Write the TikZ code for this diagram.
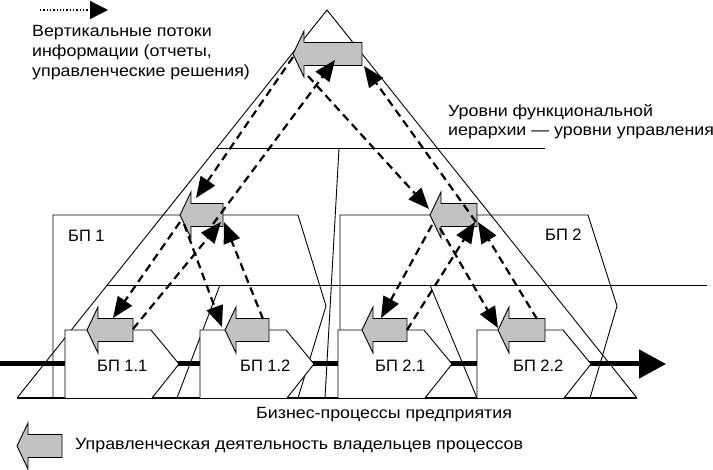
\documentclass[tikz,border=0pt]{standalone}
\usepackage{fontspec}
\setmainfont{Liberation Sans}
\newfontfamily\widefont[FakeStretch=1.1]{Liberation Sans}
\usetikzlibrary{arrows.meta}
\begin{document}
\begin{tikzpicture}[x=1pt,y=-1pt,
  thin line/.style={line width=0.9pt},
  flow/.style={line width=5pt},
  info/.style={line width=2.2pt, dash pattern=on 8pt off 5pt, -{Triangle[length=21pt,width=17pt]}},
  ownerstyle/.style={draw, line width=0.9pt, fill=black!24},
  lbl/.style={anchor=base west, inner sep=0pt, font=\widefont\fontsize{16.2}{19}\selectfont},
  bplbl/.style={anchor=base west, inner sep=0pt, font=\fontsize{16.5}{19}\selectfont},
  chev/.style={thin line, fill=white}]
\useasboundingbox (0,0) rectangle (713,470);
\newcommand\ownerarr[3]{%
  \draw[ownerstyle] (#1,#2) -- ++(11,-23) -- ++(0,11.5) -- (#3,#2-11.5) -- (#3,#2+11.5) -- (#1+11,#2+11.5) -- ++(0,11.5) -- cycle;}
% big triangle and levels
\coordinate (apex) at (327,10);
\coordinate (bl) at (17,398);
\coordinate (br) at (637,398);
\draw[thin line] (bl) -- (apex) -- (br);
\draw[line width=1.6pt] (bl) -- (br);
\coordinate (l1a) at (217,148); \coordinate (l1b) at (545,148);
\coordinate (l2a) at (107,285); \coordinate (l2b) at (707,285);
\draw[thin line] (l1a) -- (l1b);
\draw[thin line] (l2a) -- (l2b);
% split lines
\coordinate (s1a) at (339,148); \coordinate (s1b) at (325,398);
\coordinate (s2a) at (220,285); \coordinate (s2b) at (177,398);
\coordinate (s3a) at (430,285); \coordinate (s3b) at (477,398);
\draw[thin line] (s1a) -- (s1b);
\draw[thin line] (s2a) -- (s2b);
\draw[thin line] (s3a) -- (s3b);
% level-2 processes
\draw[thin line] (53,398) -- (53,215) -- (298,215) -- (326,306) -- (298,398);
\draw[thin line] (340,398) -- (340,215) -- (588,215) -- (617,306) -- (590,398);
% process flow
\coordinate (fa) at (0,364); \coordinate (fb) at (666,364);
\draw[flow, -{Triangle[length=27pt,width=28pt]}] (fa) -- (fb);
% level-3 processes
\foreach \L in {65,200,338,477}{
  \draw[chev] (\L,398) -- (\L,330) -- (\L+86,330) -- (\L+114,364) -- (\L+87,398);}
% owner arrows
\ownerarr{293}{54}{362}
\ownerarr{180}{215}{223}
\ownerarr{430}{215}{477}
\ownerarr{87}{330}{133}
\ownerarr{225}{330}{269}
\ownerarr{362}{330}{407}
\ownerarr{498}{330}{545}
% information flows
\coordinate (t0) at (293,57);  \coordinate (p1h) at (196,198);
\coordinate (p1t) at (213,224); \coordinate (t0h) at (335,60);
\coordinate (t0b) at (308,76); \coordinate (p2h) at (429,209);
\coordinate (p2t) at (476,222); \coordinate (t0g) at (364,66);
\draw[info] (t0) -- (p1h);
\draw[info] (p1t) -- (t0h);
\draw[info] (t0b) -- (p2h);
\draw[info] (p2t) -- (t0g);
\coordinate (a1) at (180,222); \coordinate (a11h) at (113,318);
\coordinate (a2) at (184,224); \coordinate (a12h) at (222,327);
\coordinate (a11t) at (133,329); \coordinate (a1h) at (221,222);
\coordinate (a12t) at (263,319); \coordinate (a1g) at (224,222);
\draw[info] (a1) -- (a11h);
\draw[info] (a2) -- (a12h);
\draw[info] (a11t) -- (a1h);
\draw[info] (a12t) -- (a1g);
\coordinate (b1) at (432,225); \coordinate (b21h) at (381,318);
\coordinate (b2) at (440,228); \coordinate (b22h) at (498,328);
\coordinate (b21t) at (407,330); \coordinate (b1h) at (475,222);
\coordinate (b22t) at (537,319); \coordinate (b1g) at (478,222);
\draw[info] (b1) -- (b21h);
\draw[info] (b2) -- (b22h);
\draw[info] (b21t) -- (b1h);
\draw[info] (b22t) -- (b1g);
% legend top
\coordinate (lga) at (40,10); \coordinate (lgb) at (108,10);
\draw[line width=1.3pt, dotted, -{Triangle[length=18pt,width=18pt]}] (lga) -- (lgb);
\node[lbl] (t1) at (32,37) {Вертикальные потоки};
\node[lbl] (t2) at (32,57) {информации (отчеты,};
\node[lbl] (t3) at (32,77) {управленческие решения)};
\node[lbl] (t4) at (448,117) {Уровни функциональной};
\node[lbl] (t5) at (448,136) {иерархии — уровни управления};
\node[bplbl] (n1) at (68,242) {БП 1};
\node[bplbl] (n2) at (545,241) {БП 2};
\node[bplbl] (n11) at (97,372) {БП 1.1};
\node[bplbl] (n12) at (240,372) {БП 1.2};
\node[bplbl] (n21) at (375,372) {БП 2.1};
\node[bplbl] (n22) at (513,372) {БП 2.2};
\node[lbl] (bp) at (256,419) {Бизнес-процессы предприятия};
% legend bottom
\ownerarr{17}{446}{62}
\node[lbl] (lg2) at (75,450) {Управленческая деятельность владельцев процессов};
\end{tikzpicture}
\end{document}
